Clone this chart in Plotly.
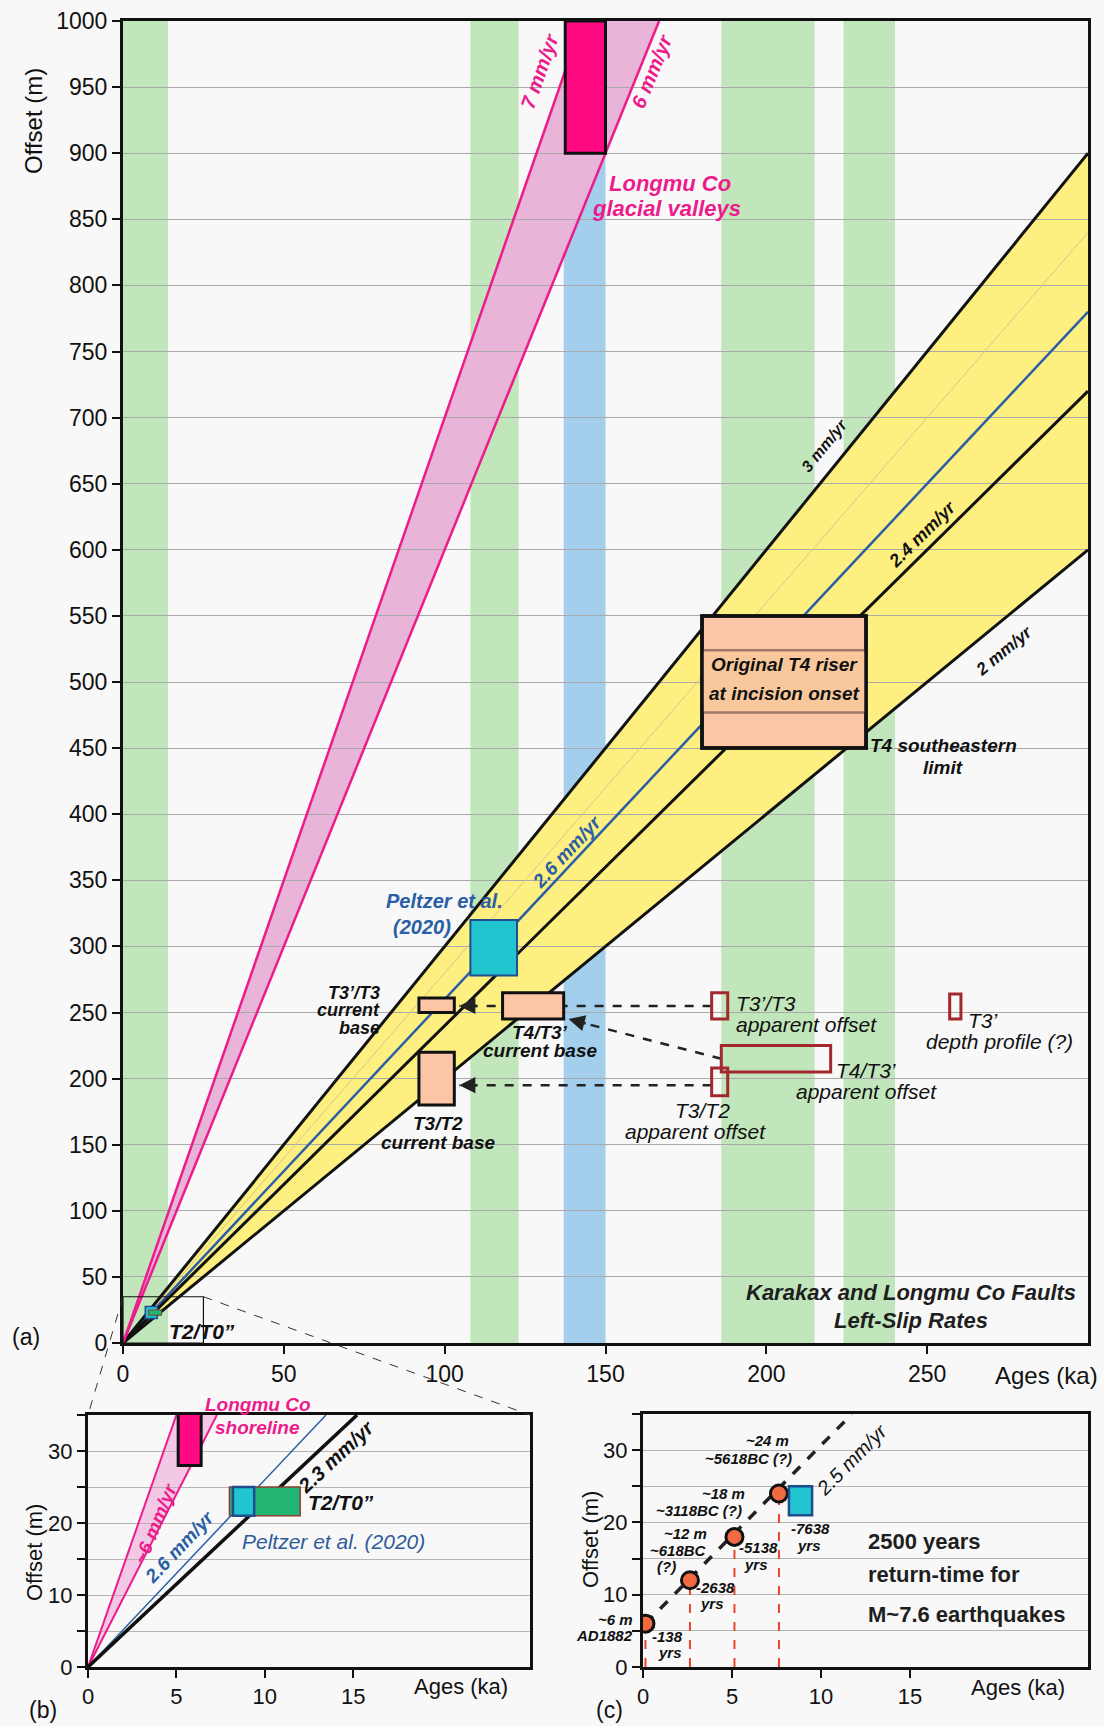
import math
import plotly.graph_objects as go

W, H = 1104, 1726
FONT = "Liberation Sans, Arial, sans-serif"

# ---------------- panel (a): Karakax / Longmu Co slip-rate diagram ----------------
age_max_a, offset_max_a = 300, 1000
age_ticks_a = [0, 50, 100, 150, 200, 250]
offset_ticks_a = list(range(0, 1001, 50))

interglacial_bands = [(0, 14), (108, 123), (186, 215), (224, 240)]   # ka
glacial_band = (137, 150)                                             # ka

envelope_rates = (2.0, 3.0)        # mm/yr, yellow envelope
black_rates = [3.0, 2.4, 2.0]      # mm/yr
peltzer_rate = 2.6                 # mm/yr
faint_rate = 2.8                   # mm/yr
longmu_rates = (6.0, 7.0)          # mm/yr

longmu_valleys = ((137.5, 150), (900, 1000))
t4_riser = ((180, 231), (450, 550))
t4_riser_core = (477, 524)
peltzer_box_a = ((108, 122.5), (278, 320))
current_bases = [((92, 103), (250, 261)), ((118, 137), (245, 265)), ((92, 103), (180, 220))]
apparent_offsets = [((183, 188), (245, 265)), ((186, 220), (205, 225)),
                    ((183, 188), (187, 208)), ((257, 260.5), (245, 264))]
# (tail age, tail offset, head age, head offset)
correlation_arrows = [(183, 255, 104.5, 255), (186, 215, 138.5, 245), (183, 195, 104.5, 195)]
t2_t0_box_a = ((8, 12), (21, 25))
peltzer_point_a = (8.8, 23)
zoom_window = ((0, 25), (0, 35))

# ---------------- panel (b): T2/T0'' close-up ----------------
age_max_b, offset_max_b = 25, 35
shoreline_rates = (7.0, 4.8)
peltzer_rate_b = 2.6
t2_rate = 2.3
shoreline_box = ((5.1, 6.4), (28, 35.6))
t2_t0_box = ((8, 12), (21, 25))
peltzer_box = ((8.2, 9.4), (21, 25))

# ---------------- panel (c): earthquake sequence ----------------
quake_ages = [0.138, 2.638, 5.138, 7.638]      # ka
quake_offsets = [6, 12, 18, 24]                # m
recurrence_rate = 2.5                          # mm/yr
peltzer_box_c = ((8.2, 9.5), (21, 25))

# ---------------- layout geometry (pixels) ----------------
A_X, A_Y = (123, 1088), (21, 1343)
B_X, B_Y = (88, 530), (1415, 1667)
C_X, C_Y = (643, 1088), (1414, 1667)


def dom_x(p):
    return [p[0] / W, p[1] / W]


def dom_y(p):
    return [1 - p[1] / H, 1 - p[0] / H]


def to_paper(xv, yv, px, py, xmax, ymax):
    return ((px[0] + xv / xmax * (px[1] - px[0])) / W,
            1 - (py[1] - yv / ymax * (py[1] - py[0])) / H)


fig = go.Figure()
shapes = []
annotations = []

BLACK = "#111111"
PINK_LINE = "#ec1c8c"
PINK_FILL = "#e8b5d8"
BLUE_LINE = "#2a5ea6"
CYAN = "#22c4cf"
NAVY = "#1f4d8e"
SALMON = "#fbc5a6"
DARK_RED = "#a3282e"
YELLOW = "#fdef80"


def rect(xr, yr, axis, fill, line_color, lw, layer="above", dash=None):
    shapes.append(dict(type="rect", xref=axis[0], yref=axis[1], x0=xr[0], x1=xr[1],
                       y0=yr[0], y1=yr[1], fillcolor=fill, layer=layer,
                       line=dict(color=line_color, width=lw, dash=dash)))


def styled(text, bold, italic):
    if italic:
        text = f"<i>{text}</i>"
    if bold:
        text = f"<b>{text}</b>"
    return text


def note(text, x, y, axis=("x", "y"), size=18, color=BLACK, bold=True, italic=True,
         angle=0, anchor="center"):
    annotations.append(dict(text=styled(text, bold, italic), x=x, y=y, xref=axis[0],
                            yref=axis[1], showarrow=False, textangle=angle, xanchor=anchor,
                            yanchor="middle", font=dict(family=FONT, size=size, color=color)))


def note_paper(text, xy, size=18, color=BLACK, bold=True, italic=True, anchor="center"):
    annotations.append(dict(text=styled(text, bold, italic), x=xy[0], y=xy[1], xref="paper",
                            yref="paper", showarrow=False, xanchor=anchor, yanchor="middle",
                            font=dict(family=FONT, size=size, color=color)))


def slope_angle(rate, px, py, xmax, ymax):
    sx = (px[1] - px[0]) / xmax
    sy = (py[1] - py[0]) / ymax
    return -math.degrees(math.atan(rate * sy / sx))


def line_trace(rate, xmax, ymax, xa, ya, color, width, dash=None, x0=0.0, y0=0.0):
    x_end = min(xmax, x0 + (ymax - y0) / rate)
    fig.add_trace(go.Scatter(x=[x0, x_end], y=[y0, y0 + rate * (x_end - x0)], mode="lines",
                             xaxis=xa, yaxis=ya, hoverinfo="skip", showlegend=False,
                             line=dict(color=color, width=width, dash=dash)))


# ---- panel (a) backgrounds (below grid) ----
for lo, hi in interglacial_bands:
    rect((lo, hi), (0, offset_max_a), ("x", "y"), "#c2e6bb", "rgba(0,0,0,0)", 0, layer="below")
rect(glacial_band, (0, offset_max_a), ("x", "y"), "#a3cfec", "rgba(0,0,0,0)", 0, layer="below")

lo_r, hi_r = envelope_rates
shapes.append(dict(type="path", xref="x", yref="y", layer="below", fillcolor=YELLOW,
                   line=dict(width=0),
                   path=f"M 0 0 L {age_max_a} {hi_r * age_max_a} L {age_max_a} {lo_r * age_max_a} Z"))
r6, r7 = longmu_rates
shapes.append(dict(type="path", xref="x", yref="y", layer="below", fillcolor=PINK_FILL,
                   line=dict(width=0),
                   path=f"M 0 0 L {offset_max_a / r7} {offset_max_a} L {offset_max_a / r6} {offset_max_a} Z"))

# ---- panel (a) rate lines ----
line_trace(faint_rate, age_max_a, offset_max_a, "x", "y", "#d6c68c", 1)
line_trace(peltzer_rate, age_max_a, offset_max_a, "x", "y", BLUE_LINE, 2.5)
for r in black_rates:
    line_trace(r, age_max_a, offset_max_a, "x", "y", BLACK, 3)
for r in longmu_rates:
    line_trace(r, age_max_a, offset_max_a, "x", "y", PINK_LINE, 2.5)

# ---- panel (a) dashed correlation arrows (under boxes) ----
for tx, ty, hx, hy in correlation_arrows:
    shapes.append(dict(type="line", xref="x", yref="y", x0=tx, y0=ty, x1=hx, y1=hy,
                       layer="above", line=dict(color="#222222", width=2.5, dash="dash")))
    ux, uy = tx - hx, ty - hy
    n = math.hypot(ux, uy * 0.411)
    annotations.append(dict(x=hx, y=hy, ax=hx + ux / n * 6, ay=hy + uy / n * 6,
                            xref="x", yref="y", axref="x", ayref="y", text="",
                            showarrow=True, arrowhead=2, arrowsize=1.3, arrowwidth=2.5,
                            arrowcolor="#222222", standoff=0))

# ---- panel (a) boxes ----
rect(*longmu_valleys, ("x", "y"), "#ff0a82", BLACK, 3)
rect(*t4_riser, ("x", "y"), SALMON, BLACK, 3.5)
rect(t4_riser[0], t4_riser_core, ("x", "y"), "#f8c89c", "#a07868", 2.5)
rect(*t4_riser, ("x", "y"), "rgba(0,0,0,0)", BLACK, 3.5)
rect(*peltzer_box_a, ("x", "y"), CYAN, NAVY, 2)
for xr, yr in current_bases:
    rect(xr, yr, ("x", "y"), SALMON, BLACK, 3)
for xr, yr in apparent_offsets:
    rect(xr, yr, ("x", "y"), "rgba(0,0,0,0)", DARK_RED, 3)
rect(*zoom_window, ("x", "y"), "rgba(0,0,0,0)", BLACK, 1.2)
rect(*t2_t0_box_a, ("x", "y"), "#22b573", "#7a4030", 1)
fig.add_trace(go.Scatter(x=[peltzer_point_a[0]], y=[peltzer_point_a[1]], mode="markers",
                         xaxis="x", yaxis="y", hoverinfo="skip", showlegend=False,
                         marker=dict(symbol="square", size=12, color=CYAN,
                                     line=dict(color=NAVY, width=1.5))))

# ---- panel (a) texts ----
ang = lambda r: slope_angle(r, A_X, A_Y, age_max_a, offset_max_a)
note("7 mm/yr", 129.6, 962, size=20, color=PINK_LINE, angle=ang(7))
note("6 mm/yr", 164.5, 962, size=20, color=PINK_LINE, angle=ang(6))
note("Longmu Co", 170, 877, size=22, color=PINK_LINE)
note("glacial valleys", 169, 858, size=22, color=PINK_LINE)
note("3 mm/yr", 218, 679, size=16, angle=ang(3))
note("2.4 mm/yr", 248.5, 612, size=18, angle=ang(2.4))
note("2 mm/yr", 274, 524, size=17, angle=ang(2))
note("2.6 mm/yr", 138, 372, size=19, color=BLUE_LINE, angle=ang(2.6))
note("Original T4 riser", 205.5, 513, size=19)
note("at incision onset", 205.5, 491, size=19)
note("T4 southeastern", 255, 452, size=19)
note("limit", 255, 435, size=19)
note("Peltzer et al.", 100, 334, size=20, color=BLUE_LINE)
note("(2020)", 93, 315, size=20, color=BLUE_LINE)
note("T3’/T3", 80.5, 265, size=18, anchor="right")
note("current", 80.5, 252, size=18, anchor="right")
note("base", 80.5, 238, size=18, anchor="right")
note("T4/T3’", 129.5, 235, size=19)
note("current base", 129.5, 221, size=19)
note("T3/T2", 98, 166, size=19)
note("current base", 98, 152, size=19)
note("T3’/T3", 190, 257, size=21, bold=False, anchor="left")
note("apparent offset", 190, 241, size=21, bold=False, anchor="left")
note("T4/T3’", 231, 206, size=21, bold=False)
note("apparent offset", 231, 190, size=21, bold=False)
note("T3/T2", 180, 176, size=21, bold=False)
note("apparent offset", 178, 160, size=21, bold=False)
note("T3’", 262, 244, size=21, bold=False, anchor="left")
note("depth profile (?)", 272.5, 228, size=21, bold=False)
note("Karakax and Longmu Co Faults", 245, 38, size=22, color="#1e1e1e")
note("Left-Slip Rates", 245, 17, size=22, color="#1e1e1e")
note("T2/T0”", 24.5, 8.5, size=21)

# ---------------- panel (b) ----------------
ax_b = ("x2", "y2")
s7, s48 = shoreline_rates
shapes.append(dict(type="path", xref="x2", yref="y2", layer="below", fillcolor="#f3c8e4",
                   line=dict(width=0),
                   path=f"M 0 0 L {offset_max_b / s7} {offset_max_b} L {offset_max_b / s48} {offset_max_b} Z"))
for r in shoreline_rates:
    line_trace(r, age_max_b, offset_max_b, "x2", "y2", PINK_LINE, 2)
line_trace(peltzer_rate_b, age_max_b, offset_max_b, "x2", "y2", BLUE_LINE, 1.5)
line_trace(t2_rate, age_max_b, offset_max_b, "x2", "y2", BLACK, 3.5)
rect(*shoreline_box, ax_b, "#ff0a82", BLACK, 3)
rect(*t2_t0_box, ax_b, "#22b573", "#8a3e30", 1.5)
rect(*peltzer_box, ax_b, CYAN, NAVY, 2.5)

angb = lambda r: slope_angle(r, B_X, B_Y, age_max_b, offset_max_b)
pb = lambda xv, yv: to_paper(xv, yv, B_X, B_Y, age_max_b, offset_max_b)
note_paper("Longmu Co", pb(9.6, 36.4), size=19, color=PINK_LINE)
note("shoreline", 9.6, 33.2, ax_b, size=19, color=PINK_LINE)
note("~6 mm/yr", 3.8, 20, ax_b, size=19, color=PINK_LINE, angle=angb(6))
note("2.6 mm/yr", 5.2, 16.7, ax_b, size=19, color=BLUE_LINE, angle=angb(2.6))
note("2.3 mm/yr", 14.0, 29.2, ax_b, size=20, angle=angb(2.3))
note("T2/T0”", 14.3, 22.8, ax_b, size=21)
note("Peltzer et al. (2020)", 13.9, 17.5, ax_b, size=21, color="#2f5b98", bold=False)

# ---------------- panel (c) ----------------
ax_c = ("x3", "y3")
for a, o in zip(quake_ages, quake_offsets):
    fig.add_trace(go.Scatter(x=[a, a], y=[0, o], mode="lines", xaxis="x3", yaxis="y3",
                             hoverinfo="skip", showlegend=False,
                             line=dict(color="#e8452c", width=2, dash="dash")))
line_trace(recurrence_rate, age_max_b, offset_max_b, "x3", "y3", "#222222", 3.5, dash="dash",
           x0=quake_ages[0], y0=quake_offsets[0])
rect(*peltzer_box_c, ax_c, CYAN, NAVY, 2.5)
fig.add_trace(go.Scatter(x=quake_ages, y=quake_offsets, mode="markers", xaxis="x3", yaxis="y3",
                         hoverinfo="skip", showlegend=False,
                         marker=dict(size=17, color="#f26a42", line=dict(color=BLACK, width=3))))

angc = lambda r: slope_angle(r, C_X, C_Y, age_max_b, offset_max_b)
pc = lambda xv, yv: to_paper(xv, yv, C_X, C_Y, age_max_b, offset_max_b)
note_paper("~6 m", pc(-0.45, 6.6), size=15, anchor="right")
note_paper("AD1882", pc(-0.45, 4.3), size=15, anchor="right")
note("-138", 1.4, 4.2, ax_c, size=15)
note("yrs", 1.5, 2.0, ax_c, size=15)
note("~12 m", 2.4, 18.4, ax_c, size=15)
note("~618BC", 2.0, 16.1, ax_c, size=15)
note("(?)", 1.3, 13.9, ax_c, size=15)
note("-2638", 4.05, 11.0, ax_c, size=15)
note("yrs", 3.85, 8.8, ax_c, size=15)
note("~18 m", 4.5, 24.0, ax_c, size=15)
note("~3118BC (?)", 3.15, 21.7, ax_c, size=15)
note("-5138", 6.5, 16.6, ax_c, size=15)
note("yrs", 6.35, 14.2, ax_c, size=15)
note("~24 m", 7.0, 31.3, ax_c, size=15)
note("~5618BC (?)", 5.9, 28.8, ax_c, size=15)
note("-7638", 9.4, 19.1, ax_c, size=15)
note("yrs", 9.35, 16.8, ax_c, size=15)
note("2.5 mm/yr", 11.7, 28.7, ax_c, size=20, bold=False, angle=angc(2.5))
note("2500 years", 12.5, 17.4, ax_c, size=22, color="#1e1e1e", italic=False, anchor="left")
note("return-time for", 12.5, 12.8, ax_c, size=22, color="#1e1e1e", italic=False, anchor="left")
note("M~7.6 earthquakes", 12.5, 7.2, ax_c, size=22, color="#1e1e1e", italic=False, anchor="left")

# ---------------- connectors between (a) and (b) ----------------
for xv in zoom_window[0]:
    xa, ya = to_paper(xv, zoom_window[1][1], A_X, A_Y, age_max_a, offset_max_a)
    xb, yb = pb(xv, offset_max_b)
    shapes.append(dict(type="line", xref="paper", yref="paper", x0=xa, y0=ya, x1=xb, y1=yb,
                       layer="above", line=dict(color="#333333", width=1, dash="dash")))


# ---------------- axis titles and panel letters ----------------
def paper_text(text, px, py, size, angle=0, anchor="center"):
    annotations.append(dict(text=text, x=px / W, y=1 - py / H, xref="paper", yref="paper",
                            showarrow=False, textangle=angle, xanchor=anchor, yanchor="middle",
                            font=dict(family=FONT, size=size, color=BLACK)))


paper_text("Offset (m)", 33, 121, 24, angle=-90)
paper_text("Offset (m)", 34, 1553, 22, angle=-90)
paper_text("Offset (m)", 590, 1540, 22, angle=-90)
paper_text("Ages (ka)", 1046, 1375, 24)
paper_text("Ages (ka)", 461, 1686, 22)
paper_text("Ages (ka)", 1018, 1687, 22)
paper_text("(a)", 26, 1337, 23)
paper_text("(b)", 43, 1710, 23)
paper_text("(c)", 609, 1710, 23)


def axis_style(size, **kw):
    base = dict(showline=True, linecolor=BLACK, linewidth=3, mirror=True, ticks="outside",
                tickcolor=BLACK, tickwidth=2, ticklen=8, zeroline=False, showgrid=True,
                gridcolor="#a9a9a9", gridwidth=1, fixedrange=True, automargin=False,
                tickfont=dict(family=FONT, size=size, color=BLACK))
    base.update(kw)
    return base


minor_labels = lambda vals: [str(v) if v % 10 == 0 else "" for v in vals]
small_y = list(range(0, 36, 5))

fig.update_layout(
    width=W, height=H, margin=dict(l=0, r=0, t=0, b=0, autoexpand=False),
    paper_bgcolor="#f8f8f8", plot_bgcolor="#f8f8f8", showlegend=False,
    xaxis=axis_style(23, domain=dom_x(A_X), range=[0, age_max_a], tickvals=age_ticks_a,
                     anchor="y", showgrid=False),
    yaxis=axis_style(23, domain=dom_y(A_Y), range=[0, offset_max_a], tickvals=offset_ticks_a,
                     anchor="x"),
    xaxis2=axis_style(22, domain=dom_x(B_X), range=[0, age_max_b], tickvals=[0, 5, 10, 15],
                      anchor="y2", showgrid=False),
    yaxis2=axis_style(22, domain=dom_y(B_Y), range=[0, offset_max_b], tickvals=small_y,
                      ticktext=minor_labels(small_y), anchor="x2", gridcolor="#b4b4b4"),
    xaxis3=axis_style(22, domain=dom_x(C_X), range=[0, age_max_b], tickvals=[0, 5, 10, 15],
                      anchor="y3", showgrid=False),
    yaxis3=axis_style(22, domain=dom_y(C_Y), range=[0, offset_max_b], tickvals=small_y,
                      ticktext=minor_labels(small_y), anchor="x3", gridcolor="#b4b4b4"),
    shapes=shapes,
    annotations=annotations,
)

fig.write_html("out.html", config={"displayModeBar": False, "staticPlot": True})
